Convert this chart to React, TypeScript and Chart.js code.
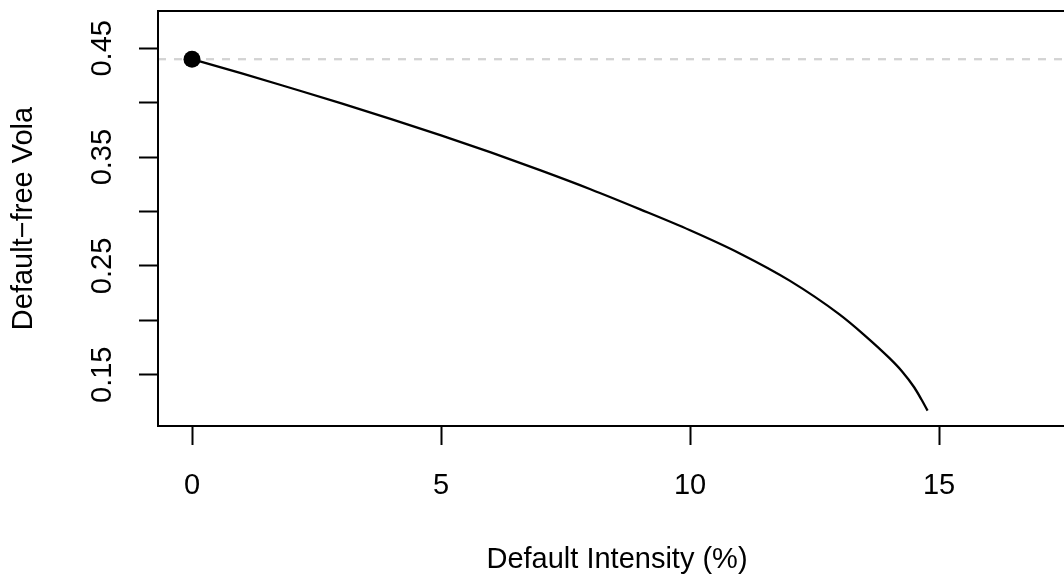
import React, { useEffect, useRef } from "react";
import { Chart, registerables } from "chart.js";

Chart.register(...registerables);

// Data
const intensity = [0, 1, 2, 3, 4, 5, 6, 7, 8, 9, 10, 11, 12, 13, 13.5, 14, 14.25, 14.5, 14.65, 14.77];
const vola = [0.44, 0.427, 0.4133, 0.3994, 0.3849, 0.37, 0.3543, 0.3378, 0.3205, 0.302, 0.2828, 0.2615, 0.2365, 0.2055, 0.1865, 0.1655, 0.1535, 0.1385, 0.127, 0.117];
const startX = [0];
const startY = [0.44];
const refLevel = 0.44;
const xTicks = [0, 5, 10, 15];
const yTicks = [0.15, 0.2, 0.25, 0.3, 0.35, 0.4, 0.45];
const yLabelled = [0.15, 0.25, 0.35, 0.45];
const xRange = [-0.683, 17.75];
const yRange = [0.1029, 0.4843];

const FONT = "'Liberation Sans', Arial, Helvetica, sans-serif";

const boxPlugin = {
  id: "rbox",
  afterDraw(chart: any) {
    const { ctx, chartArea } = chart;
    ctx.save();
    ctx.strokeStyle = "#000";
    ctx.lineWidth = 2;
    ctx.strokeRect(chartArea.left, chartArea.top, chartArea.right - chartArea.left, chartArea.bottom - chartArea.top);
    ctx.restore();
  },
};

export default function App() {
  const ref = useRef<HTMLCanvasElement | null>(null);
  useEffect(() => {
    if (!ref.current) return;
    const font = { family: FONT, size: 29 };
    const chart = new Chart(ref.current, {
      type: "scatter",
      data: {
        datasets: [
          {
            data: startX.map((x, i) => ({ x, y: startY[i] })),
            pointRadius: 8.5,
            pointBackgroundColor: "#000",
            pointBorderColor: "#000",
            pointBorderWidth: 0,
            showLine: false,
          },
          {
            data: intensity.map((x, i) => ({ x, y: vola[i] })),
            showLine: true,
            borderColor: "#000",
            borderWidth: 2.3,
            pointRadius: 0,
            cubicInterpolationMode: "monotone",
          },
          {
            data: xRange.map((x) => ({ x, y: refLevel })),
            showLine: true,
            borderColor: "#d3d3d3",
            borderWidth: 2.3,
            borderDash: [8, 8],
            pointRadius: 0,
          },
        ],
      },
      options: {
        animation: false,
        responsive: false,
        events: [],
        layout: { padding: { top: 11, right: 14, left: 0, bottom: 0 } },
        plugins: { legend: { display: false }, tooltip: { enabled: false } },
        scales: {
          x: {
            type: "linear",
            min: xRange[0],
            max: xRange[1],
            afterBuildTicks: (s: any) => {
              s.ticks = xTicks.map((v) => ({ value: v }));
            },
            afterFit: (s: any) => {
              s.height = 151;
              s.paddingLeft = 0;
              s.paddingRight = 0;
            },
            grid: { drawOnChartArea: false, tickLength: 19, tickColor: "#000", tickWidth: 2 },
            border: { display: true, color: "#000", width: 2 },
            ticks: { color: "#000", font, padding: 24, maxRotation: 0, minRotation: 0, callback: (v: any) => String(v) },
            title: { display: true, text: "Default Intensity (%)", color: "#000", font, padding: { top: 0, bottom: 0 } },
          },
          y: {
            type: "linear",
            min: yRange[0],
            max: yRange[1],
            afterBuildTicks: (s: any) => {
              s.ticks = yTicks.map((v) => ({ value: v }));
            },
            afterFit: (s: any) => {
              s.width = 158;
              s.paddingTop = 0;
              s.paddingBottom = 0;
            },
            grid: { drawOnChartArea: false, tickLength: 19, tickColor: "#000", tickWidth: 2 },
            border: { display: true, color: "#000", width: 2 },
            ticks: {
              color: "#000",
              font,
              padding: 8,
              minRotation: 90,
              maxRotation: 90,
              crossAlign: "center",
              callback: (v: any) => (yLabelled.some((t) => Math.abs(t - v) < 1e-9) ? Number(v).toFixed(2) : ""),
            },
            title: { display: true, text: "Default\u2212free Vola", color: "#000", font, padding: { top: 7, bottom: 0 } },
          },
        },
      },
      plugins: [boxPlugin],
    } as any);
    return () => chart.destroy();
  }, []);

  return (
    <div style={{ position: "absolute", left: 0, top: 0, width: 1064, height: 577, overflow: "hidden", background: "#fff" }}>
      <canvas ref={ref} width={1090} height={577} style={{ display: "block" }} />
    </div>
  );
}
